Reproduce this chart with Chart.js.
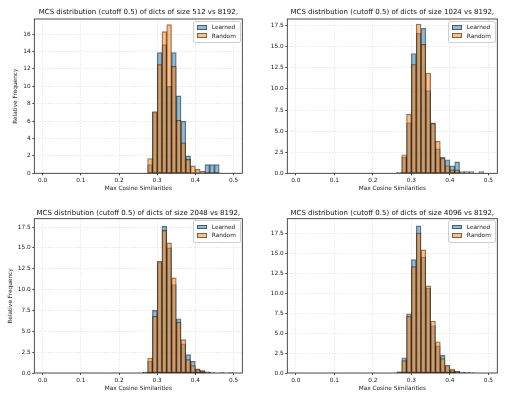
<!DOCTYPE html>
<html>
<head>
<meta charset="utf-8">
<script src="https://cdn.jsdelivr.net/npm/chart.js@4"></script>
<style>
  body { margin: 0; background: #fff; font-family: 'DejaVu Sans', sans-serif; }
  #page { position: relative; width: 515px; height: 398px; overflow: hidden; }
  #page canvas { position: absolute; }
  .legend {
    position: absolute; box-sizing: border-box;
    border: 0.6px solid #cfcfcf; border-radius: 2px;
    background: rgba(255, 255, 255, 0.8);
    padding: 1.5px 2px 1.5px 2.5px;
    font-size: 5.8px; line-height: 8.6px; color: #222; white-space: nowrap;
  }
  .legend .sw {
    display: inline-block; box-sizing: border-box; width: 10px; height: 4.8px;
    border: 0.6px solid rgba(0, 0, 0, 0.5); margin-right: 5px; vertical-align: -0.5px;
  }
</style>
</head>
<body>
<div id="page"></div>
<script>
// histogram bins (left edges, width 0.0125), only the non-empty part of 0..0.5
const binStart = [0.2625, 0.275, 0.2875, 0.3, 0.3125, 0.325, 0.3375, 0.35, 0.3625, 0.375,
                  0.3875, 0.4, 0.4125, 0.425, 0.4375, 0.45, 0.4625, 0.475, 0.4875];
const binWidth = 0.0125;

const dictSizes = [512, 1024, 2048, 4096];
const seriesNames = ['Learned', 'Random'];

const learned512 = [null, 1.0, 7.0, 13.9, 14.8, 10.0, 13.9, 8.9, 6.0, 2.0, null, null, null, 1.0, 1.0, 1.0, null, null, null];
const random512  = [null, 1.7, 7.1, 12.5, 16.3, 17.1, 12.3, 6.1, 3.5, 1.6, 0.85, 0.45, 0.25, 0.1, 0.05, 0.1, null, null, null];

const learned1024 = [0.1, 1.9, 6.0, 14.2, 16.6, 17.2, 9.8, 6.0, 2.9, 1.9, 1.6, 0.9, 1.35, 0.2, 0.2, 0.2, null, 0.2, null];
const random1024  = [0.1, 2.2, 7.0, 12.9, 17.7, 15.3, 11.9, 5.9, 3.8, 1.8, 0.9, 0.4, 0.4, 0.1, null, null, null, null, null];

const learned2048 = [0.1, 1.4, 7.5, 13.3, 17.6, 15.0, 10.6, 6.5, 3.5, 2.2, 1.4, 0.5, 0.3, 0.15, 0.05, null, 0.05, null, 0.05];
const random2048  = [0.1, 1.8, 6.8, 13.4, 17.1, 15.6, 11.4, 6.1, 4.0, 1.6, 0.9, 0.4, 0.25, 0.1, 0.05, null, null, null, null];

const learned4096 = [0.15, 1.9, 7.4, 14.2, 18.4, 14.5, 10.6, 5.9, 3.4, 2.2, 0.9, 0.35, 0.2, 0.1, 0.05, 0.03, null, null, null];
const random4096  = [0.15, 1.55, 7.1, 13.3, 17.5, 15.4, 10.9, 6.5, 3.9, 1.8, 1.0, 0.5, 0.2, 0.05, 0.05, null, null, null, null];

const xTicks = [0, 0.1, 0.2, 0.3, 0.4, 0.5];
const yTicksInt = [0, 2, 4, 6, 8, 10, 12, 14, 16];
const yTicksHalf = [0, 2.5, 5, 7.5, 10, 12.5, 15, 17.5];

const panels = [
  { size: dictSizes[0], learned: learned512,  random: random512,  yTicks: yTicksInt,  yMax: 17.75, yDigits: 0 },
  { size: dictSizes[1], learned: learned1024, random: random1024, yTicks: yTicksHalf, yMax: 18.3,  yDigits: 1 },
  { size: dictSizes[2], learned: learned2048, random: random2048, yTicks: yTicksHalf, yMax: 18.5,  yDigits: 1 },
  { size: dictSizes[3], learned: learned4096, random: random4096, yTicks: yTicksHalf, yMax: 19.3,  yDigits: 1 },
];

// where each subplot sits (canvas box + axes box inside it)
const boxes = [
  { left: 0,   top: 0,   w: 257, h: 199, l: 34.3, r: 242.3, t: 19,   b: 173.3, titleY: 11.7, xTitleY: 188, yTitleX: 15.8 },
  { left: 257, top: 0,   w: 258, h: 199, l: 30.3, r: 240.3, t: 19,   b: 173.3, titleY: 11.7, xTitleY: 188, yTitleX: null },
  { left: 0,   top: 199, w: 257, h: 199, l: 34.3, r: 242.3, t: 19.7, b: 174,   titleY: 14,   xTitleY: 189, yTitleX: 10.8 },
  { left: 257, top: 199, w: 258, h: 199, l: 30.3, r: 240.3, t: 19.7, b: 174,   titleY: 14,   xTitleY: 189, yTitleX: null },
];

const blue = 'rgba(31, 119, 180, 0.5)';
const orange = 'rgba(255, 127, 14, 0.5)';
const edge = 'rgba(0, 0, 0, 0.55)';
const spine = '#222';

Chart.defaults.font.family = "'DejaVu Sans', sans-serif";
Chart.defaults.color = '#222';

const frame = {
  id: 'frame',
  afterDraw(chart) {
    const a = chart.chartArea, ctx = chart.ctx;
    ctx.save();
    ctx.strokeStyle = spine;
    ctx.lineWidth = 0.8;
    ctx.strokeRect(a.left, a.top, a.right - a.left, a.bottom - a.top);
    ctx.restore();
  }
};

const page = document.getElementById('page');
const titleSize = 7.0, labelSize = 5.8, lh = 1.2;

panels.forEach((p, k) => {
  const bx = boxes[k];
  const canvas = document.createElement('canvas');
  canvas.width = bx.w;
  canvas.height = bx.h;
  canvas.style.left = bx.left + 'px';
  canvas.style.top = bx.top + 'px';
  page.appendChild(canvas);

  const toPoints = vals => binStart.map((s, i) => ({ x: s + binWidth / 2, y: vals[i] }));
  const barStyle = { grouped: false, barPercentage: 1, categoryPercentage: 1,
                     borderWidth: 0.7, borderColor: edge, borderSkipped: false };

  new Chart(canvas, {
    type: 'bar',
    data: {
      datasets: [
        { label: seriesNames[0], data: toPoints(p.learned), backgroundColor: blue, order: 1, ...barStyle },
        { label: seriesNames[1], data: toPoints(p.random), backgroundColor: orange, order: 0, ...barStyle },
      ]
    },
    options: {
      responsive: false,
      animation: false,
      devicePixelRatio: 1,
      layout: { padding: { left: 0, right: bx.w - bx.r, top: 0, bottom: 0 } },
      plugins: {
        legend: { display: false },
        tooltip: { enabled: false },
        title: {
          display: true,
          fullSize: false,
          text: 'MCS distribution (cutoff 0.5) of dicts of size ' + p.size + ' vs 8192,',
          font: { size: titleSize, weight: 'normal', lineHeight: lh },
          color: '#111',
          padding: { top: bx.titleY - titleSize * lh / 2, bottom: bx.t - bx.titleY - titleSize * lh / 2 }
        }
      },
      scales: {
        x: {
          type: 'linear',
          min: -0.022, max: 0.523,
          offset: false,
          afterBuildTicks: s => { s.ticks = xTicks.map(v => ({ value: v })); },
          afterFit: s => { s.height = bx.h - bx.b; },
          ticks: { font: { size: labelSize }, padding: 2, maxRotation: 0, callback: v => v.toFixed(1) },
          grid: { color: '#d4d4d4', lineWidth: 0.6, offset: false, tickLength: 2, tickColor: spine, tickWidth: 0.8 },
          border: { display: false, dash: [1.2, 1.6] },
          title: {
            display: true, text: 'Max Cosine Similarities',
            font: { size: labelSize, lineHeight: lh },
            padding: { top: 0, bottom: bx.h - bx.xTitleY - labelSize * lh / 2 }
          }
        },
        y: {
          min: 0, max: p.yMax,
          afterBuildTicks: s => { s.ticks = p.yTicks.map(v => ({ value: v })); },
          afterFit: s => { s.width = bx.l; },
          ticks: { font: { size: labelSize }, padding: 1.6, callback: v => v.toFixed(p.yDigits) },
          grid: { color: '#d4d4d4', lineWidth: 0.6, tickLength: 2, tickColor: spine, tickWidth: 0.8 },
          border: { display: false, dash: [1.2, 1.6] },
          title: {
            display: bx.yTitleX !== null, text: 'Relative Frequency',
            font: { size: labelSize, lineHeight: lh },
            padding: { top: (bx.yTitleX || 0) - labelSize * lh / 2, bottom: 0 }
          }
        }
      }
    },
    plugins: [frame]
  });

  // legend box, upper right inside the axes
  const lg = document.createElement('div');
  lg.className = 'legend';
  lg.style.left = (bx.left + bx.r - 49) + 'px';
  lg.style.top = (bx.top + bx.t + 1.7) + 'px';
  lg.style.width = '47.5px';
  lg.innerHTML = seriesNames.map((n, i) =>
    '<div><span class="sw" style="background:' + (i === 0 ? blue : orange) + '"></span>' + n + '</div>').join('');
  page.appendChild(lg);
});
</script>
</body>
</html>
